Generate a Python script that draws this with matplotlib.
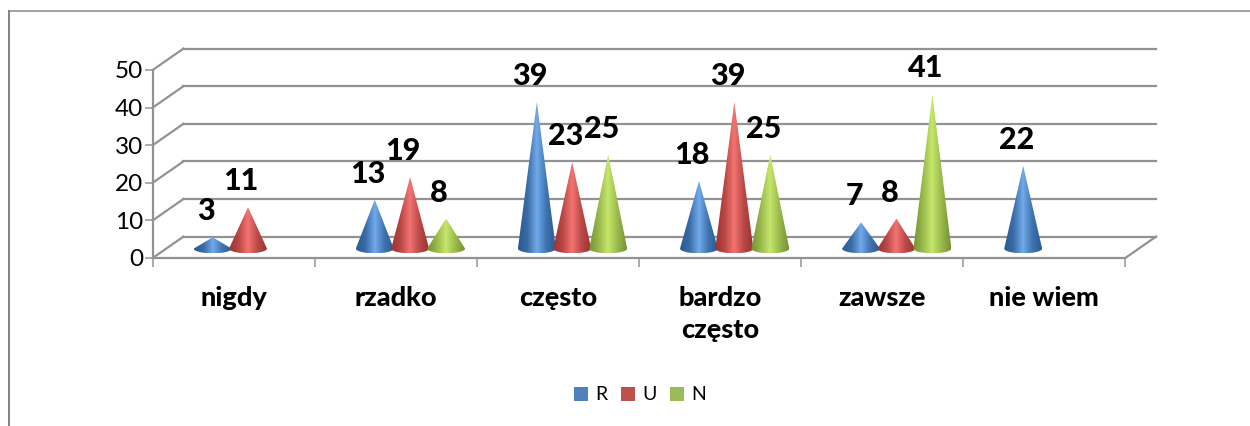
import numpy as np
import matplotlib
matplotlib.use('Agg')
import matplotlib.pyplot as plt
from matplotlib.colors import LinearSegmentedColormap
from matplotlib.lines import Line2D
from matplotlib.patches import Patch, Polygon

categories = ['nigdy', 'rzadko', 'często', 'bardzo\nczęsto', 'zawsze', 'nie wiem']
series_names = ['R', 'U', 'N']
r_values = [3, 13, 39, 18, 7, 22]
u_values = [11, 19, 23, 39, 8, None]
n_values = [None, 8, 25, 25, 41, None]
y_ticks = [0, 10, 20, 30, 40, 50]

legend_colors = ['#4f81bd', '#c0504d', '#9bbb59']
cone_colors = [
    ['#2a5a94', '#3a6ca6', '#72aaea', '#3f74b0', '#2a5a94'],
    ['#9a3432', '#b84644', '#f37472', '#bb4a48', '#9a3432'],
    ['#769234', '#98b84a', '#c6e66c', '#9abb4c', '#769234'],
]

GREY = '#929292'
PX = 0.72  # 1 pixel in points at dpi 100
DEPTH_X = 0.19
DEPTH_Y = 5.7
BASE_Y = 2.5
HALF_W = 0.117
HALF_H = 1.25
OFFSETS = [0.37, 0.588, 0.81]

plt.rcParams['font.family'] = ['Lato', 'DejaVu Sans']

fig = plt.figure(figsize=(12.5, 4.26), dpi=100)
ax = fig.add_axes([152.7 / 1250, (426 - 258) / 426, 972.6 / 1250, 188 / 426])
ax.set_xlim(0, 6)
ax.set_ylim(0, 50)
ax.patch.set_alpha(0)

# frame of the chart object (cropped at right and bottom)
fig.add_artist(Line2D([9 / 1250, 9 / 1250], [0, 1 - 11 / 426], color='#868686', lw=2 * PX))
fig.add_artist(Line2D([9 / 1250, 1], [1 - 11 / 426, 1 - 11 / 426], color='#868686', lw=1.5 * PX))

# back wall, side wall and floor
for t in y_ticks:
    ax.plot([0, DEPTH_X], [t, t + DEPTH_Y], color=GREY, lw=2.2 * PX, clip_on=False, zorder=1)
    ax.plot([DEPTH_X, 6 + DEPTH_X], [t + DEPTH_Y, t + DEPTH_Y], color=GREY, lw=2.2 * PX, clip_on=False, zorder=1)
ax.plot([6, 6 + DEPTH_X], [0, DEPTH_Y], color=GREY, lw=2.2 * PX, clip_on=False, zorder=1)

for s, vals in enumerate([r_values, u_values, n_values]):
    cmap = LinearSegmentedColormap.from_list('c%d' % s, cone_colors[s])
    for i, v in enumerate(vals):
        if v is None:
            continue
        cx = i + OFFSETS[s]
        top = BASE_Y + v
        th = np.linspace(np.pi, 2 * np.pi, 40)
        xs = cx + HALF_W * np.cos(th)
        ys = BASE_Y + HALF_H * np.sin(th)
        pts = np.column_stack([np.r_[cx, xs], np.r_[top, ys]])
        im = ax.imshow(np.linspace(0, 1, 64).reshape(1, -1), cmap=cmap, aspect='auto',
                       extent=[cx - HALF_W, cx + HALF_W, BASE_Y - HALF_H, top],
                       zorder=3 + s * 0.1, clip_on=True, interpolation='bilinear')
        im.set_clip_path(Polygon(pts, closed=True, transform=ax.transData))
        ax.annotate(str(v), (cx, top), xytext=(-7, 26), textcoords='offset pixels',
                    ha='center', va='center', fontsize=22, fontweight=900,
                    color='black', zorder=6, annotation_clip=False)

ax.set_xlim(0, 6)
ax.set_ylim(0, 50)

for side in ['top', 'right']:
    ax.spines[side].set_visible(False)
for side in ['left', 'bottom']:
    ax.spines[side].set_color(GREY)
    ax.spines[side].set_linewidth(2.2 * PX)

ax.set_yticks(y_ticks)
ax.tick_params(axis='y', length=8 * PX, width=1.5 * PX, color=GREY, labelsize=17.5, pad=1, labelcolor='black')
ax.set_xticks(range(7))
ax.set_xticklabels([])
ax.tick_params(axis='x', which='major', length=9 * PX, width=1.5 * PX, color=GREY)
ax.set_xticks(np.arange(len(categories)) + 0.5, minor=True)
ax.set_xticklabels(categories, minor=True, fontsize=19.5, fontweight=900, linespacing=1.42)
ax.tick_params(axis='x', which='minor', length=0, pad=20)

handles = [Patch(facecolor=c, edgecolor='none', label=n) for c, n in zip(legend_colors, series_names)]
fig.legend(handles=handles, loc='center', bbox_to_anchor=(640 / 1250, 1 - 395 / 426), ncol=3,
           frameon=False, fontsize=14, handlelength=0.72, handleheight=0.72,
           handletextpad=0.36, columnspacing=0.72)

fig.savefig('out.png', dpi=100)
